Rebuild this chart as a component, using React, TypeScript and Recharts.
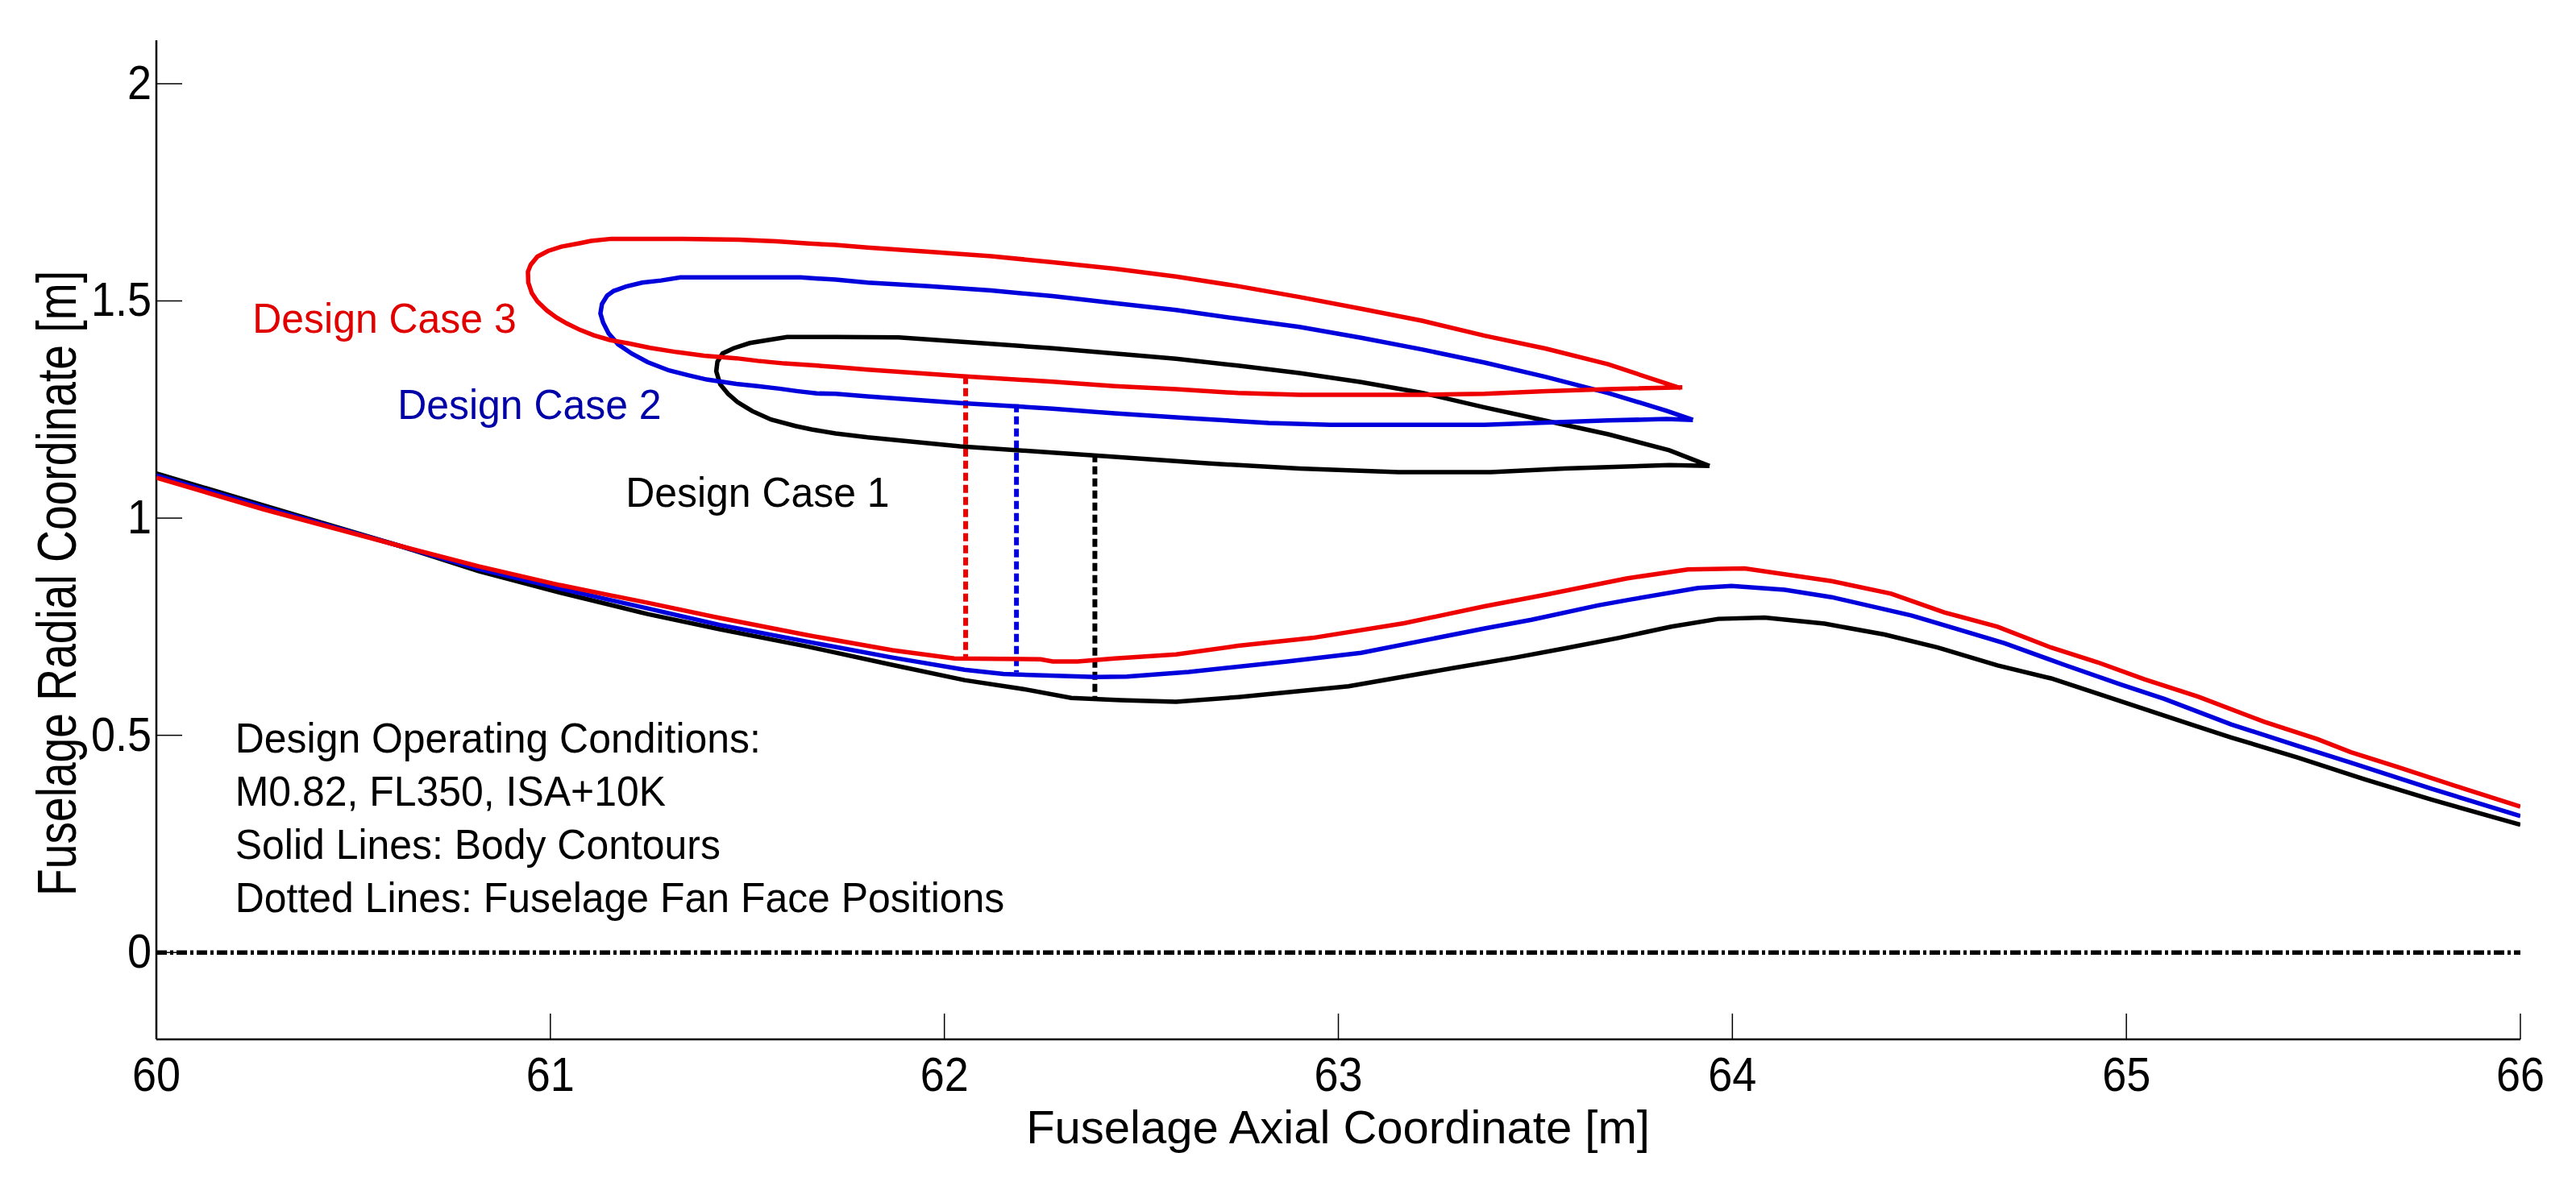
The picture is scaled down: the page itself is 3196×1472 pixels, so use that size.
import { ScatterChart, Scatter, XAxis, YAxis, ReferenceDot } from "recharts";

const W = 3196;
const H = 1472;

const xTicks = [60, 61, 62, 63, 64, 65, 66];
const yTicks = [0, 0.5, 1, 1.5, 2];

// [axial, radial]
const body1 = [[60,1.103],[60.273,1.029],[60.614,0.937],[60.818,0.878],[61.023,0.829],[61.247,0.779],[61.43,0.744],[61.649,0.705],[61.868,0.662],[62.051,0.627],[62.197,0.607],[62.322,0.586],[62.447,0.581],[62.588,0.577],[62.745,0.588],[63.026,0.613],[63.293,0.655],[63.449,0.679],[63.574,0.7],[63.71,0.724],[63.845,0.75],[63.964,0.768],[64.082,0.771],[64.234,0.757],[64.386,0.732],[64.521,0.702],[64.673,0.661],[64.809,0.631],[64.927,0.596],[65.164,0.525],[65.266,0.495],[65.434,0.449],[65.604,0.399],[65.774,0.352],[66,0.294]];
const body2 = [[60,1.098],[60.273,1.025],[60.614,0.937],[60.818,0.883],[61.023,0.838],[61.247,0.792],[61.43,0.754],[61.649,0.716],[61.868,0.679],[62.051,0.651],[62.15,0.641],[62.385,0.634],[62.463,0.635],[62.62,0.646],[62.87,0.67],[63.058,0.69],[63.371,0.746],[63.49,0.766],[63.659,0.799],[63.744,0.813],[63.913,0.839],[63.998,0.844],[64.133,0.835],[64.252,0.818],[64.454,0.776],[64.573,0.744],[64.691,0.712],[64.843,0.662],[64.986,0.617],[65.096,0.584],[65.266,0.525],[65.434,0.476],[65.57,0.437],[65.774,0.377],[66,0.314]];
const body3 = [[60,1.093],[60.273,1.02],[60.614,0.937],[60.818,0.889],[61.023,0.846],[61.247,0.805],[61.43,0.77],[61.649,0.731],[61.868,0.696],[62.025,0.677],[62.244,0.675],[62.275,0.67],[62.338,0.67],[62.432,0.677],[62.588,0.686],[62.745,0.706],[62.933,0.724],[63.167,0.758],[63.371,0.797],[63.527,0.824],[63.731,0.861],[63.887,0.882],[64.031,0.884],[64.252,0.855],[64.403,0.826],[64.538,0.783],[64.673,0.75],[64.809,0.702],[64.927,0.668],[65.046,0.629],[65.182,0.589],[65.35,0.531],[65.485,0.491],[65.57,0.461],[65.688,0.427],[65.857,0.377],[66,0.336]];

const nacelle1 = [[63.942,1.12],[63.84,1.156],[63.685,1.193],[63.527,1.224],[63.371,1.255],[63.214,1.288],[63.058,1.313],[62.901,1.334],[62.745,1.351],[62.588,1.367],[62.432,1.379],[62.275,1.391],[62.119,1.401],[61.884,1.416],[61.724,1.417],[61.601,1.417],[61.553,1.41],[61.506,1.403],[61.465,1.391],[61.437,1.379],[61.424,1.36],[61.421,1.338],[61.431,1.308],[61.451,1.286],[61.475,1.267],[61.513,1.246],[61.56,1.227],[61.622,1.212],[61.663,1.204],[61.724,1.195],[61.805,1.186],[62.04,1.165],[62.275,1.151],[62.432,1.141],[62.667,1.126],[62.901,1.114],[63.153,1.106],[63.387,1.106],[63.574,1.114],[63.84,1.122],[63.942,1.12]];
const nacelle2 = [[63.9,1.226],[63.833,1.247],[63.685,1.288],[63.527,1.325],[63.371,1.358],[63.214,1.388],[63.058,1.415],[62.901,1.44],[62.745,1.459],[62.588,1.479],[62.432,1.495],[62.275,1.511],[62.119,1.524],[61.962,1.534],[61.805,1.542],[61.724,1.549],[61.635,1.554],[61.33,1.554],[61.281,1.547],[61.233,1.542],[61.192,1.533],[61.161,1.523],[61.144,1.512],[61.131,1.493],[61.127,1.471],[61.134,1.45],[61.148,1.425],[61.172,1.4],[61.206,1.379],[61.247,1.359],[61.301,1.34],[61.349,1.329],[61.397,1.319],[61.472,1.309],[61.526,1.304],[61.581,1.298],[61.629,1.292],[61.676,1.287],[61.724,1.286],[61.805,1.28],[62.04,1.265],[62.275,1.252],[62.432,1.241],[62.62,1.23],[62.823,1.219],[62.979,1.215],[63.371,1.215],[63.527,1.22],[63.685,1.225],[63.833,1.228],[63.9,1.226]];
const nacelle3 = [[63.869,1.299],[63.685,1.354],[63.527,1.39],[63.371,1.42],[63.214,1.454],[63.058,1.482],[62.901,1.509],[62.745,1.534],[62.588,1.556],[62.432,1.574],[62.275,1.589],[62.119,1.603],[61.962,1.613],[61.805,1.623],[61.724,1.629],[61.656,1.632],[61.574,1.637],[61.479,1.641],[61.335,1.643],[61.155,1.643],[61.103,1.638],[61.076,1.633],[61.028,1.625],[60.994,1.615],[60.967,1.602],[60.95,1.583],[60.943,1.567],[60.944,1.542],[60.953,1.518],[60.967,1.499],[60.991,1.478],[61.015,1.462],[61.042,1.448],[61.076,1.433],[61.11,1.421],[61.151,1.41],[61.199,1.402],[61.253,1.392],[61.322,1.382],[61.39,1.374],[61.472,1.368],[61.526,1.362],[61.594,1.356],[61.663,1.352],[61.724,1.348],[61.805,1.342],[62.04,1.327],[62.275,1.314],[62.432,1.304],[62.588,1.297],[62.745,1.288],[62.901,1.284],[63.214,1.284],[63.371,1.286],[63.527,1.292],[63.685,1.297],[63.873,1.301]];

const fan1 = [[62.382,1.147],[62.382,0.585]];
const fan2 = [[62.183,1.262],[62.183,0.645]];
const fan3 = [[62.054,1.327],[62.054,0.677]];
const centre = [[60,0],[66,0]];

const caseLabels = [
  { text: "Design Case 3", x: 60.244, y: 1.427, color: "#e00000" },
  { text: "Design Case 2", x: 60.612, y: 1.228, color: "#0000a8" },
  { text: "Design Case 1", x: 61.191, y: 1.026, color: "#000000" },
];
const noteLines = [
  { text: "Design Operating Conditions:", x: 60.2, y: 0.46 },
  { text: "M0.82, FL350, ISA+10K", x: 60.2, y: 0.338 },
  { text: "Solid Lines: Body Contours", x: 60.2, y: 0.215 },
  { text: "Dotted Lines: Fuselage Fan Face Positions", x: 60.2, y: 0.093 },
];

const toPoints = (rows: number[][]) => rows.map(([x, y]) => ({ x, y }));
const noDot = () => <g />;
const FONT = "'Liberation Sans', Arial, sans-serif";

const series = [
  { rows: centre, color: "#000000", dash: "13 4 4 4", width: 5.5 },
  { rows: fan1, color: "#000000", dash: "10 5", width: 6 },
  { rows: fan2, color: "#0000dd", dash: "10 5", width: 6 },
  { rows: fan3, color: "#ee0000", dash: "10 5", width: 6 },
  { rows: nacelle1, color: "#000000", width: 5.5 },
  { rows: nacelle2, color: "#0000dd", width: 5.5 },
  { rows: nacelle3, color: "#ee0000", width: 5.5 },
  { rows: body1, color: "#000000", width: 5.5 },
  { rows: body2, color: "#0000dd", width: 5.5 },
  { rows: body3, color: "#ee0000", width: 5.5 },
];

function noteText(text: string, color: string) {
  return (p: any) => (
    <text
      transform={`translate(${p.cx},${p.cy}) scale(0.96,1)`}
      fontFamily={FONT}
      fontSize={52}
      fill={color}
    >
      {text}
    </text>
  );
}

function tickText(anchor: string, dx: number, dy: number) {
  return (p: any) => (
    <text
      transform={`translate(${p.x + dx},${p.y + dy}) scale(0.9,1)`}
      textAnchor={anchor}
      fontFamily={FONT}
      fontSize={60}
      fill="#000"
    >
      {p.payload.value}
    </text>
  );
}

export default function App() {
  return (
    <div style={{ position: "absolute", left: 0, top: 0, width: W, height: H, background: "#fff" }}>
      <ScatterChart width={W} height={H} margin={{ top: 50, right: 69, bottom: 82, left: 94 }}>
        <XAxis
          type="number"
          dataKey="x"
          domain={[60, 66]}
          ticks={xTicks}
          interval={0}
          allowDataOverflow
          height={100}
          stroke="#000"
          strokeWidth={2.5}
          tickLine={{ strokeWidth: 1.5 }}
          tickSize={-32}
          tickMargin={55}
          tick={tickText("middle", 0, 41)}
          label={() => (
            <text x={1660} y={1419} textAnchor="middle" fontFamily={FONT} fontSize={58} fill="#000">
              Fuselage Axial Coordinate [m]
            </text>
          )}
        />
        <YAxis
          type="number"
          dataKey="y"
          domain={[-0.2, 2.1]}
          ticks={yTicks}
          interval={0}
          allowDataOverflow
          width={100}
          stroke="#000"
          strokeWidth={2.5}
          tickLine={{ strokeWidth: 1.5 }}
          tickSize={-32}
          tickMargin={38}
          tick={tickText("end", 0, 19)}
          label={() => (
            <text
              x={94}
              y={724}
              transform="rotate(-90 94 724)"
              textAnchor="middle"
              textLength={776}
              lengthAdjust="spacingAndGlyphs"
              fontFamily={FONT}
              fontSize={68}
              fill="#000"
            >
              Fuselage Radial Coordinate [m]
            </text>
          )}
        />
        {series.map((s, i) => (
          <Scatter
            key={i}
            data={toPoints(s.rows)}
            line={{ stroke: s.color, strokeWidth: s.width, strokeDasharray: s.dash, fill: "none" }}
            lineType="joint"
            shape={noDot}
            fill={s.color}
            isAnimationActive={false}
          />
        ))}
        {caseLabels.map((l) => (
          <ReferenceDot key={l.text} x={l.x} y={l.y} shape={noteText(l.text, l.color)} />
        ))}
        {noteLines.map((l) => (
          <ReferenceDot key={l.text} x={l.x} y={l.y} shape={noteText(l.text, "#000")} />
        ))}
      </ScatterChart>
    </div>
  );
}
